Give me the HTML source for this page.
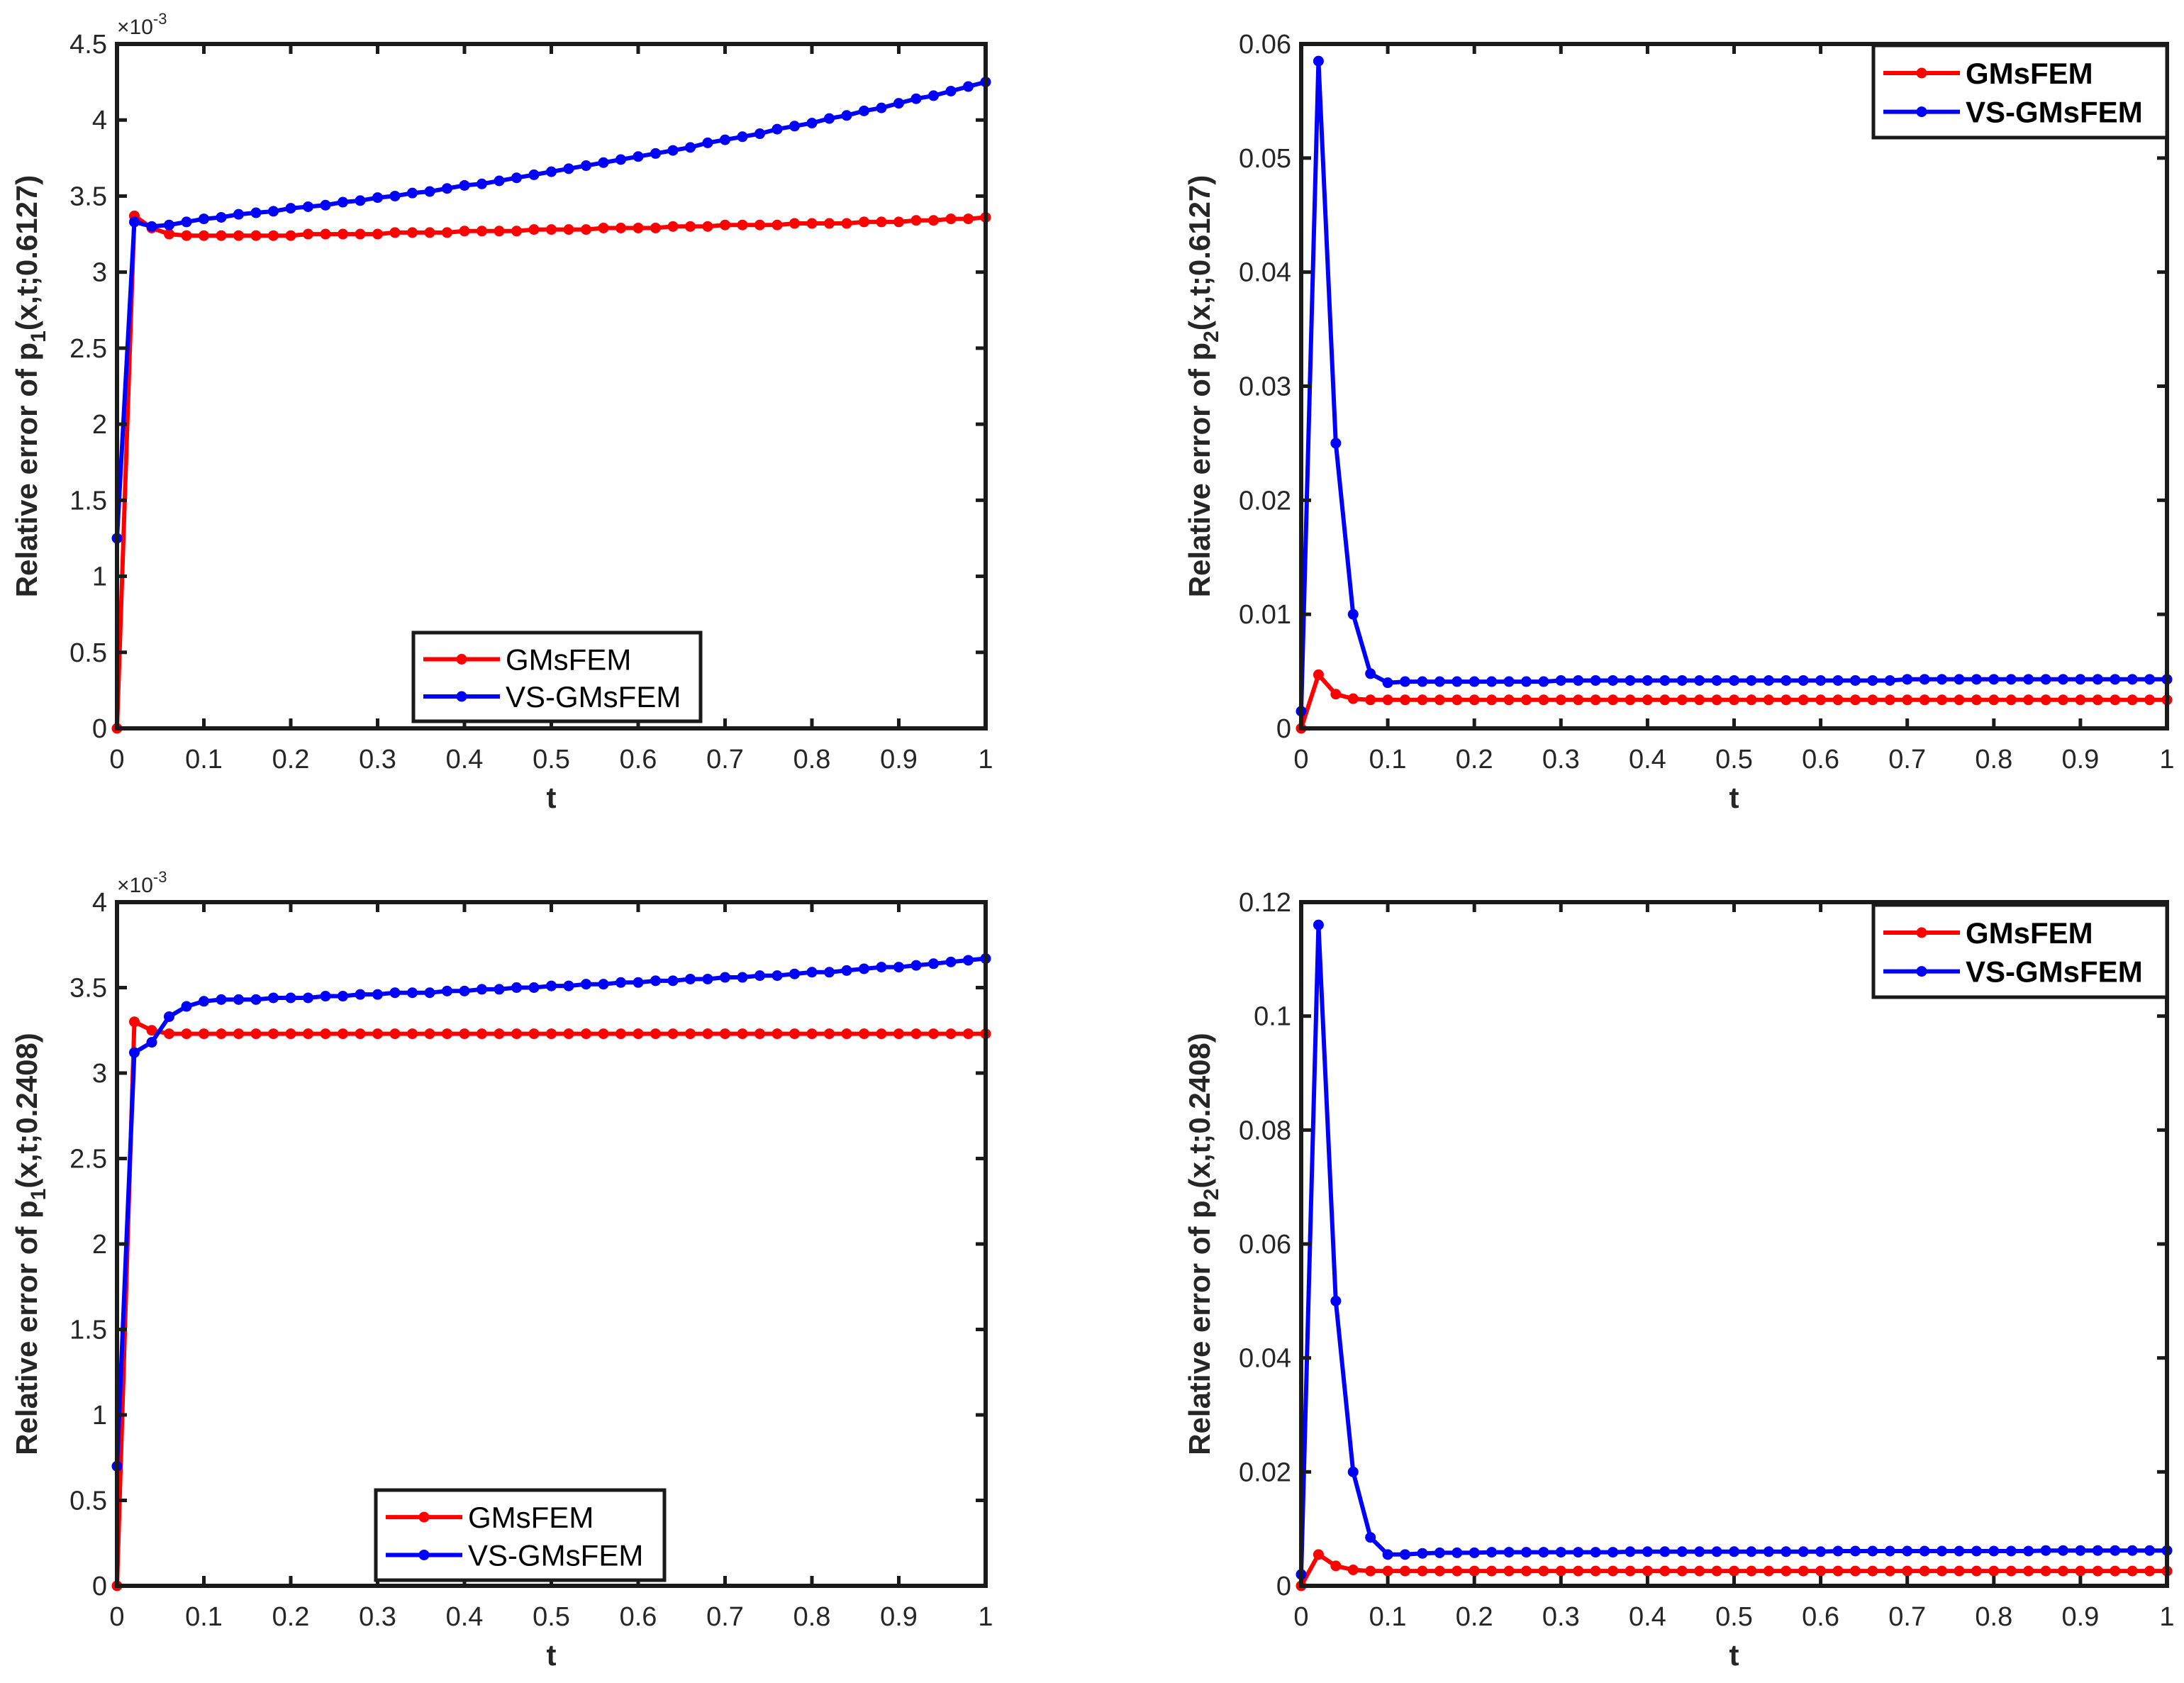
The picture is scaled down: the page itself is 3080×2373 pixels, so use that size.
<!DOCTYPE html>
<html><head><meta charset="utf-8"><style>
html,body{margin:0;padding:0;background:#fff}
svg text{font-family:"Liberation Sans",Arial,sans-serif}
</style></head><body>
<svg id="fig" xmlns="http://www.w3.org/2000/svg" width="3080" height="2368" viewBox="0 0 3080 2368"></svg>
<script>
const tValues = [0,0.02,0.04,0.06,0.08,0.1,0.12,0.14,0.16,0.18,0.2,0.22,0.24,0.26,0.28,0.3,0.32,0.34,0.36,0.38,0.4,0.42,0.44,0.46,0.48,0.5,0.52,0.54,0.56,0.58,0.6,0.62,0.64,0.66,0.68,0.7,0.72,0.74,0.76,0.78,0.8,0.82,0.84,0.86,0.88,0.9,0.92,0.94,0.96,0.98,1];
const xTicks = [0,0.1,0.2,0.3,0.4,0.5,0.6,0.7,0.8,0.9,1];
const xTickLabels = ["0","0.1","0.2","0.3","0.4","0.5","0.6","0.7","0.8","0.9","1"];

const aRed = [0,3.37,3.29,3.25,3.24,3.24,3.24,3.24,3.24,3.24,3.24,3.25,3.25,3.25,3.25,3.25,3.26,3.26,3.26,3.26,3.27,3.27,3.27,3.27,3.28,3.28,3.28,3.28,3.29,3.29,3.29,3.29,3.30,3.30,3.30,3.31,3.31,3.31,3.31,3.32,3.32,3.32,3.32,3.33,3.33,3.33,3.34,3.34,3.35,3.35,3.36];
const aBlue = [1.25,3.33,3.30,3.31,3.33,3.35,3.36,3.38,3.39,3.40,3.42,3.43,3.44,3.46,3.47,3.49,3.50,3.52,3.53,3.55,3.57,3.58,3.60,3.62,3.64,3.66,3.68,3.70,3.72,3.74,3.76,3.78,3.80,3.82,3.85,3.87,3.89,3.91,3.94,3.96,3.98,4.01,4.03,4.06,4.08,4.11,4.14,4.16,4.19,4.22,4.25];
const aYTicks = [0,0.5,1,1.5,2,2.5,3,3.5,4,4.5];
const aYTickLabels = ["0","0.5","1","1.5","2","2.5","3","3.5","4","4.5"];

const bRed = [0,0.0047,0.0030,0.0026,0.0025,0.0025,0.0025,0.0025,0.0025,0.0025,0.0025,0.0025,0.0025,0.0025,0.0025,0.0025,0.0025,0.0025,0.0025,0.0025,0.0025,0.0025,0.0025,0.0025,0.0025,0.0025,0.0025,0.0025,0.0025,0.0025,0.0025,0.0025,0.0025,0.0025,0.0025,0.0025,0.0025,0.0025,0.0025,0.0025,0.0025,0.0025,0.0025,0.0025,0.0025,0.0025,0.0025,0.0025,0.0025,0.0025,0.0025];
const bBlue = [0.0015,0.0585,0.0250,0.0100,0.0048,0.0040,0.0041,0.0041,0.0041,0.0041,0.0041,0.0041,0.0041,0.0041,0.0041,0.0042,0.0042,0.0042,0.0042,0.0042,0.0042,0.0042,0.0042,0.0042,0.0042,0.0042,0.0042,0.0042,0.0042,0.0042,0.0042,0.0042,0.0042,0.0042,0.0042,0.0043,0.0043,0.0043,0.0043,0.0043,0.0043,0.0043,0.0043,0.0043,0.0043,0.0043,0.0043,0.0043,0.0043,0.0043,0.0043];
const bYTicks = [0,0.01,0.02,0.03,0.04,0.05,0.06];
const bYTickLabels = ["0","0.01","0.02","0.03","0.04","0.05","0.06"];

const cRed = [0,3.30,3.25,3.23,3.23,3.23,3.23,3.23,3.23,3.23,3.23,3.23,3.23,3.23,3.23,3.23,3.23,3.23,3.23,3.23,3.23,3.23,3.23,3.23,3.23,3.23,3.23,3.23,3.23,3.23,3.23,3.23,3.23,3.23,3.23,3.23,3.23,3.23,3.23,3.23,3.23,3.23,3.23,3.23,3.23,3.23,3.23,3.23,3.23,3.23,3.23];
const cBlue = [0.70,3.12,3.18,3.33,3.39,3.42,3.43,3.43,3.43,3.44,3.44,3.44,3.45,3.45,3.46,3.46,3.47,3.47,3.47,3.48,3.48,3.49,3.49,3.50,3.50,3.51,3.51,3.52,3.52,3.53,3.53,3.54,3.54,3.55,3.55,3.56,3.56,3.57,3.57,3.58,3.59,3.59,3.60,3.61,3.62,3.62,3.63,3.64,3.65,3.66,3.67];
const cYTicks = [0,0.5,1,1.5,2,2.5,3,3.5,4];
const cYTickLabels = ["0","0.5","1","1.5","2","2.5","3","3.5","4"];

const dRed = [0,0.0055,0.0035,0.0028,0.0026,0.0026,0.0026,0.0026,0.0026,0.0026,0.0026,0.0026,0.0026,0.0026,0.0026,0.0026,0.0026,0.0026,0.0026,0.0026,0.0026,0.0026,0.0026,0.0026,0.0026,0.0026,0.0026,0.0026,0.0026,0.0026,0.0026,0.0026,0.0026,0.0026,0.0026,0.0026,0.0026,0.0026,0.0026,0.0026,0.0026,0.0026,0.0026,0.0026,0.0026,0.0026,0.0026,0.0026,0.0026,0.0026,0.0026];
const dBlue = [0.0020,0.1160,0.0500,0.0200,0.0085,0.0055,0.0055,0.0057,0.0058,0.0058,0.0058,0.0059,0.0059,0.0059,0.0059,0.0059,0.0059,0.0059,0.0059,0.0060,0.0060,0.0060,0.0060,0.0060,0.0060,0.0060,0.0060,0.0060,0.0060,0.0060,0.0060,0.0061,0.0061,0.0061,0.0061,0.0061,0.0061,0.0061,0.0061,0.0061,0.0061,0.0061,0.0061,0.0062,0.0062,0.0062,0.0062,0.0062,0.0062,0.0062,0.0062];
const dYTicks = [0,0.02,0.04,0.06,0.08,0.1,0.12];
const dYTickLabels = ["0","0.02","0.04","0.06","0.08","0.1","0.12"];

const NS="http://www.w3.org/2000/svg";
const svg=document.getElementById('fig');
function mk(tag,attrs,parent){const e=document.createElementNS(NS,tag);for(const k in attrs)e.setAttribute(k,attrs[k]);(parent||svg).appendChild(e);return e;}

function panel(o){
  const g=mk('g',{});
  
  
  const L=o.L,R=o.R,T=o.T,B=o.B;
  const xs=v=>L+(v-0)/(1-0)*(R-L);
  const ys=v=>B-(v-o.ymin)/(o.ymax-o.ymin)*(B-T);
  const series=[[o.red,'#ff0000','gmsfem'],[o.blue,'#0000ff','vs-gmsfem']];
  for(const [vals,col,nm] of series){
    let d='';
    vals.forEach((v,i)=>{d+=(i?'L':'M')+xs(tValues[i]).toFixed(1)+' '+ys(v).toFixed(1);});
    const p=mk('path',{d:d,fill:'none',stroke:col,'stroke-width':6,'stroke-linejoin':'round'},g);
    
    
    vals.forEach((v,i)=>{
      const c=mk('circle',{cx:xs(tValues[i]),cy:ys(v),r:7.5,fill:col},g);
      
      
    });
  }
  const box=mk('rect',{x:L,y:T,width:R-L,height:B-T,fill:'none',stroke:'#1a1a1a','stroke-width':6},g);
  
  
  xTicks.forEach((t,i)=>{
    const x=xs(t);
    mk('line',{x1:x,y1:B,x2:x,y2:B-14,stroke:'#1a1a1a','stroke-width':5},g);
    mk('line',{x1:x,y1:T,x2:x,y2:T+14,stroke:'#1a1a1a','stroke-width':5},g);
    const tx=mk('text',{x:x,y:B+56,'font-size':38,'text-anchor':'middle',fill:'#262626'},g);
    tx.textContent=xTickLabels[i];
    
    
  });
  o.yt.forEach((v,i)=>{
    const y=ys(v);
    mk('line',{x1:L,y1:y,x2:L+14,y2:y,stroke:'#1a1a1a','stroke-width':5},g);
    mk('line',{x1:R,y1:y,x2:R-14,y2:y,stroke:'#1a1a1a','stroke-width':5},g);
    const tx=mk('text',{x:L-14,y:y+13,'font-size':38,'text-anchor':'end',fill:'#262626'},g);
    tx.textContent=o.ytl[i];
    
    
  });
  const xl=mk('text',{x:(L+R)/2,y:B+112,'font-size':42,'font-weight':'bold','text-anchor':'middle',fill:'#262626'},g);
  xl.textContent='t';
  
  
  const cy=(T+B)/2;
  const yl=mk('text',{x:0,y:0,'font-size':42,'font-weight':'bold','text-anchor':'middle',fill:'#262626',transform:`translate(${o.ylx},${cy}) rotate(-90)`},g);
  yl.innerHTML='Relative error of p<tspan font-size="30" dy="12">'+o.sub+'</tspan><tspan dy="-12">(x,t;'+o.par+')</tspan>';
  
  
  if(o.exp){
    const ex=mk('text',{x:L,y:T-14,'font-size':30,fill:'#262626'},g);
    ex.innerHTML='×10<tspan font-size="22" dy="-14">-3</tspan>';
    
    
  }
  const lg=o.lg;
  const lgG=mk('g',{},g);
  
  
  mk('rect',{x:lg.x,y:lg.y,width:lg.w,height:lg.h,fill:'#fff',stroke:'#1a1a1a','stroke-width':5},lgG);
  [['GMsFEM','#ff0000'],['VS-GMsFEM','#0000ff']].forEach((e,i)=>{
    const yy=lg.y+lg.h*(i===0?0.3:0.72);
    const eg=mk('g',{},lgG);
    
    
    mk('line',{x1:lg.x+14,y1:yy,x2:lg.x+122,y2:yy,stroke:e[1],'stroke-width':6},eg);
    mk('circle',{cx:lg.x+68,cy:yy,r:7.5,fill:e[1]},eg);
    const t=mk('text',{x:lg.x+130,y:yy+15,'font-size':42,'font-weight':lg.bold?'bold':'normal',fill:'#000'},eg);
    t.textContent=e[0];
  });
}

panel({name:'panel-p1-06127',L:165,R:1390,T:62,B:1027,ymin:0,ymax:4.5,red:aRed,blue:aBlue,yt:aYTicks,ytl:aYTickLabels,ylx:52,sub:'1',par:'0.6127',exp:true,lg:{x:583,y:892,w:405,h:125,bold:false}});
panel({name:'panel-p2-06127',L:1835,R:3056,T:62,B:1027,ymin:0,ymax:0.06,red:bRed,blue:bBlue,yt:bYTicks,ytl:bYTickLabels,ylx:1706,sub:'2',par:'0.6127',exp:false,lg:{x:2642,y:64,w:414,h:130,bold:true}});
panel({name:'panel-p1-02408',L:165,R:1390,T:1272,B:2236,ymin:0,ymax:4,red:cRed,blue:cBlue,yt:cYTicks,ytl:cYTickLabels,ylx:52,sub:'1',par:'0.2408',exp:true,lg:{x:530,y:2101,w:407,h:127,bold:false}});
panel({name:'panel-p2-02408',L:1835,R:3056,T:1272,B:2236,ymin:0,ymax:0.12,red:dRed,blue:dBlue,yt:dYTicks,ytl:dYTickLabels,ylx:1706,sub:'2',par:'0.2408',exp:false,lg:{x:2642,y:1276,w:414,h:130,bold:true}});
</script>
</body></html>
